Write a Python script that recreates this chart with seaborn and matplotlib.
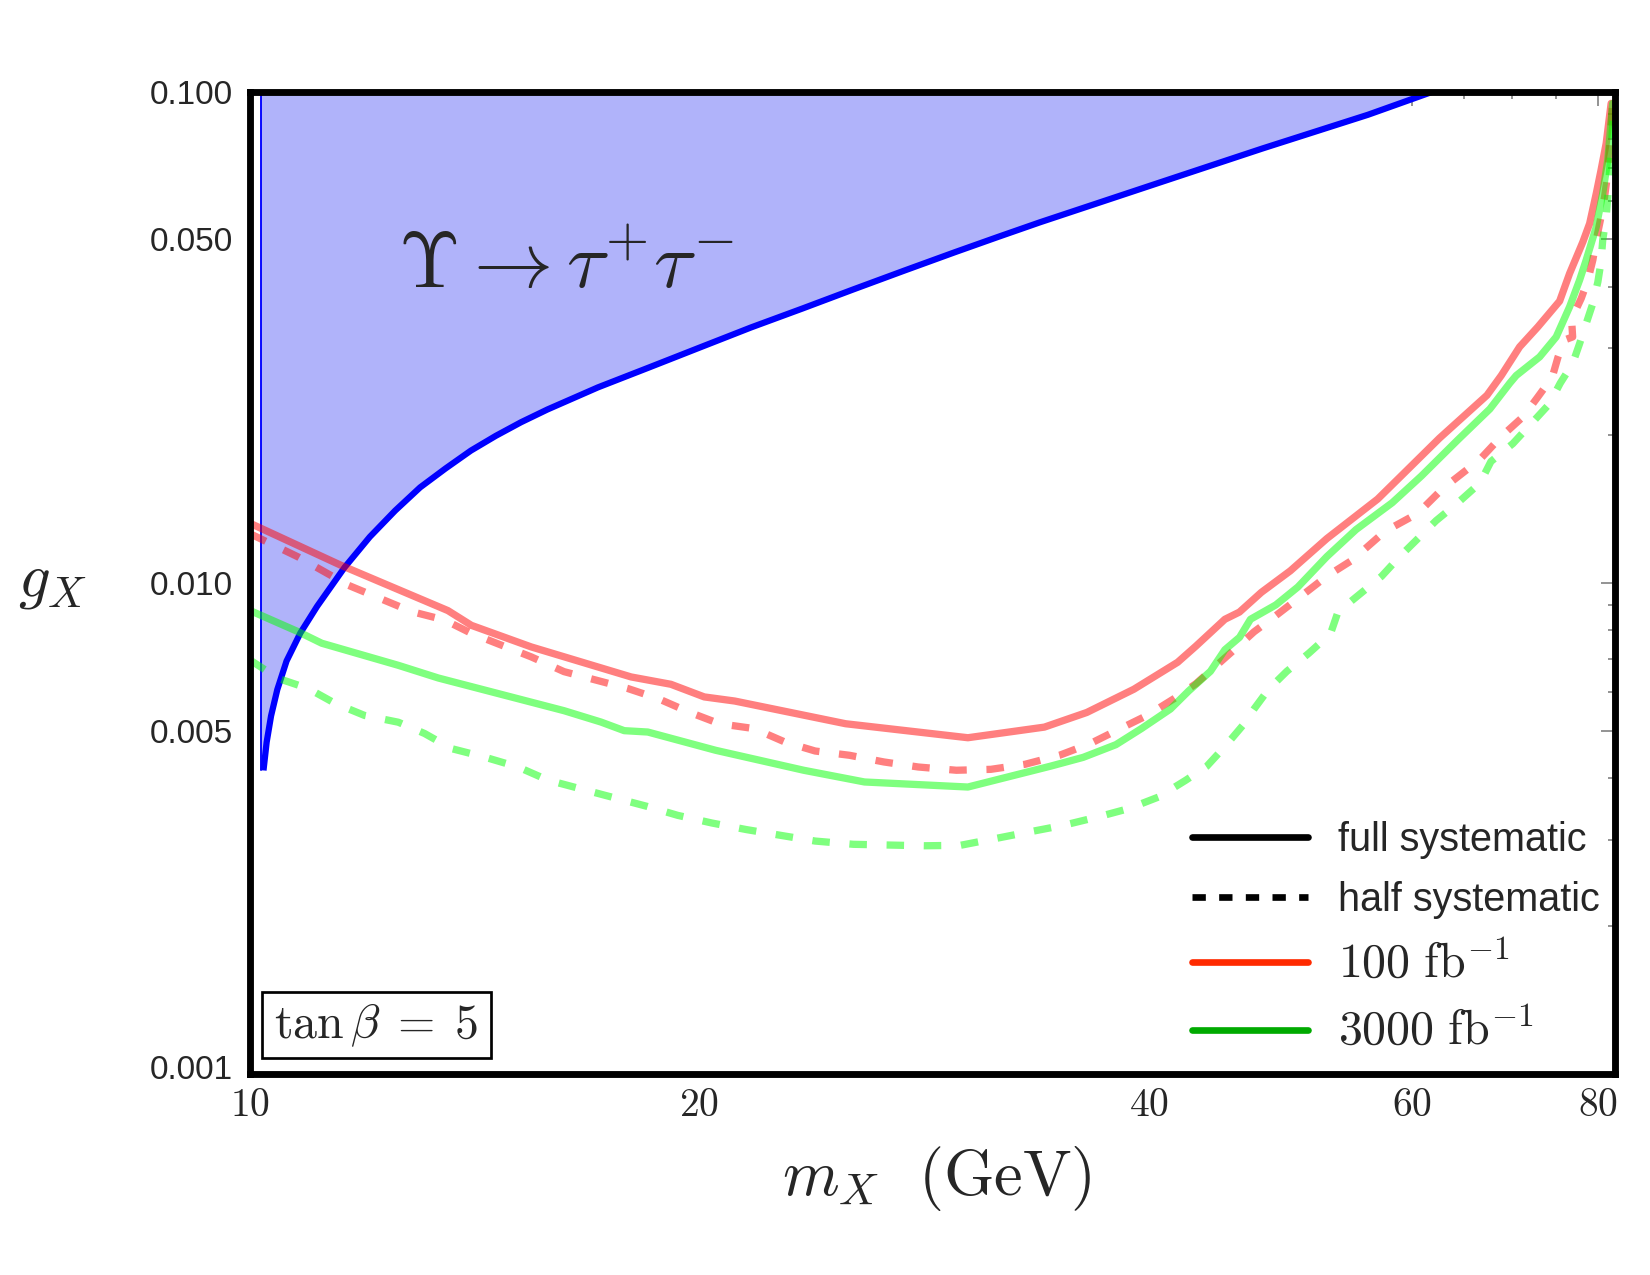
import numpy as np
import matplotlib
matplotlib.use("Agg")
import matplotlib.pyplot as plt
import matplotlib.transforms as mtransforms
from matplotlib.patches import Rectangle
import seaborn as sns
from matplotlib.lines import Line2D
from matplotlib.ticker import FixedLocator, FixedFormatter, NullFormatter

sns.set_theme(style="white")
plt.rcParams["font.family"] = ["Liberation Sans", "DejaVu Sans"]
plt.rcParams["mathtext.fontset"] = "cm"

# ---------------- data ----------------
# Upsilon -> tau tau excluded region boundary
blue_m = [10.21, 10.26, 10.33, 10.43, 10.58, 10.81, 11.09, 11.57, 12.03, 12.51, 13.00,
          13.52, 14.06, 14.61, 15.19, 15.82, 17.10, 18.51, 20.02, 21.66, 23.45, 25.35,
          27.44, 29.66, 31.70, 33.83, 40.55, 47.68, 56.09, 62.0]
blue_g = [0.00415, 0.004737, 0.005358, 0.006062, 0.006931, 0.007913, 0.008954, 0.010747,
          0.012404, 0.014028, 0.015638, 0.017090, 0.018585, 0.019915, 0.021227, 0.022532,
          0.024989, 0.027449, 0.030144, 0.033106, 0.036182, 0.039546, 0.043221, 0.047100,
          0.050601, 0.054210, 0.065089, 0.076618, 0.089712, 0.1]
wall_m = 10.17

# 100 fb^-1, full systematic
rs_m = [10.0, 11.51, 13.57, 14.07, 15.43, 18.00, 19.14, 20.15, 21.12, 25.06, 30.26, 34.05,
        36.35, 39.09, 41.82, 43.01, 44.98, 46.00, 47.58, 49.76, 52.64, 56.93, 58.88, 62.63,
        67.39, 68.90, 70.87, 72.88, 75.38, 76.55, 78.13, 78.95, 79.76, 80.35, 80.99, 81.61]
rs_g = [0.01322, 0.01085, 0.008778, 0.008192, 0.007404, 0.006432, 0.006214, 0.005857,
        0.005745, 0.005165, 0.004837, 0.005084, 0.005445, 0.006072, 0.006890, 0.007430,
        0.008428, 0.008717, 0.009561, 0.010579, 0.012303, 0.014805, 0.016373, 0.019701,
        0.024088, 0.026438, 0.030222, 0.033174, 0.037453, 0.042645, 0.049433, 0.053891,
        0.062035, 0.069208, 0.078465, 0.09463]

# 100 fb^-1, half systematic
rd_m = [10.0, 10.77, 11.64, 12.83, 13.50, 14.07, 15.43, 16.23, 17.91, 18.77, 19.68, 20.63,
        21.76, 22.81, 23.91, 25.21, 26.58, 28.03, 29.73, 31.35, 33.05, 34.85, 36.54, 38.07,
        39.90, 41.59, 43.01, 45.49, 47.05, 48.66, 50.61, 52.63, 54.74, 57.57, 60.55, 62.97,
        66.63, 68.91, 71.26, 72.88, 74.52, 75.18, 75.92, 76.91, 76.78, 77.93, 78.74, 79.34,
        79.76, 80.35, 80.79, 81.19, 81.40, 81.80]
rd_g = [0.012589, 0.011289, 0.009882, 0.008738, 0.008399, 0.007890, 0.007066, 0.006594,
        0.006092, 0.005810, 0.005456, 0.005165, 0.005049, 0.004743, 0.004545, 0.004455,
        0.004318, 0.004217, 0.004153, 0.004171, 0.004271, 0.004455, 0.004705, 0.005007,
        0.005371, 0.005810, 0.006229, 0.007245, 0.007948, 0.008575, 0.009402, 0.010311,
        0.011121, 0.012724, 0.013838, 0.015572, 0.017806, 0.019867, 0.021790, 0.023887,
        0.026205, 0.028763, 0.031199, 0.031664, 0.034437, 0.037918, 0.041341, 0.045402,
        0.049848, 0.055581, 0.061039, 0.068157, 0.076061, 0.094718]

# 3000 fb^-1, full systematic
gs_m = [10.0, 10.77, 11.17, 12.57, 13.37, 16.23, 17.18, 17.81, 18.47, 20.51, 23.49, 25.80,
        30.26, 34.37, 36.15, 38.02, 39.54, 41.36, 42.53, 43.99, 44.98, 46.01, 46.79, 48.66,
        50.34, 52.64, 55.06, 58.23, 60.91, 64.41, 67.69, 69.80, 70.50, 73.09, 74.98, 76.55,
        77.74, 78.53, 79.76, 80.56, 81.19, 81.81]
gs_g = [0.008781, 0.007952, 0.007533, 0.006792, 0.006400, 0.005491, 0.005207, 0.005000,
        0.004968, 0.004560, 0.004153, 0.003931, 0.003839, 0.004233, 0.004412, 0.004682,
        0.005047, 0.005535, 0.006020, 0.006604, 0.007306, 0.007745, 0.008428, 0.009016,
        0.009805, 0.011306, 0.012831, 0.014557, 0.016502, 0.019527, 0.022589, 0.025492,
        0.026425, 0.028834, 0.031664, 0.036469, 0.041341, 0.045402, 0.053046, 0.062035,
        0.072567, 0.09463]

# 3000 fb^-1, half systematic
gd_m = [10.0, 10.45, 10.94, 11.40, 11.93, 12.57, 13.09, 13.64, 14.35, 15.12, 15.83, 17.29,
        18.45, 19.34, 20.39, 21.50, 22.67, 23.91, 25.36, 28.28, 29.91, 31.53, 33.25, 35.06,
        36.98, 38.76, 40.62, 42.34, 43.74, 44.98, 46.26, 47.05, 48.12, 49.49, 51.19, 52.94,
        53.55, 55.38, 57.28, 58.90, 60.58, 62.30, 64.44, 66.67, 67.80, 70.13, 72.12, 74.18,
        75.45, 76.91, 77.74, 78.53, 79.34, 79.96, 80.35, 80.56, 80.99, 81.19, 81.40, 81.61,
        81.80, 81.88]
gd_g = [0.006963, 0.006384, 0.006092, 0.005684, 0.005371, 0.005202, 0.004934, 0.004598,
        0.004420, 0.004217, 0.003966, 0.003693, 0.003506, 0.003362, 0.003243, 0.003145,
        0.003061, 0.002980, 0.002935, 0.002915, 0.002921, 0.003013, 0.003110, 0.003208,
        0.003337, 0.003468, 0.003665, 0.003962, 0.004231, 0.004641, 0.005132, 0.005535,
        0.006072, 0.006604, 0.007185, 0.007878, 0.008720, 0.009481, 0.010311, 0.011306,
        0.012303, 0.013381, 0.014557, 0.015969, 0.017657, 0.019202, 0.021056, 0.023110,
        0.025492, 0.027951, 0.030695, 0.033718, 0.037049, 0.040996, 0.045023, 0.049848,
        0.055581, 0.061039, 0.068157, 0.076061, 0.084818, 0.094718]

x_major = [10, 20, 40, 60, 80]
x_major_labels = ["$10$", "$20$", "$40$", "$60$", "$80$"]
x_minor = [15, 25, 30, 35, 45, 50, 55, 65, 70, 75]
y_major = [0.001, 0.005, 0.01, 0.05, 0.1]
y_major_labels = ["0.001", "0.005", "0.010", "0.050", "0.100"]
y_minor = [0.002, 0.003, 0.004, 0.006, 0.007, 0.008, 0.009,
           0.02, 0.03, 0.04, 0.06, 0.07, 0.08, 0.09]

legend_labels = ["full systematic", "half systematic",
                 r"$100\ \mathrm{fb}^{-1}$", r"$3000\ \mathrm{fb}^{-1}$"]

# ---------------- figure ----------------
fig = plt.figure(figsize=(11, 8.5), dpi=150)
ax = fig.add_axes([0.15152, 0.15765, 0.82727, 0.77051])
ax.set_xscale("log")
ax.set_yscale("log")
ax.set_xlim(10, 82.1)
ax.set_ylim(0.001, 0.1)

# excluded region fill
poly_m = [wall_m] + blue_m + [blue_m[-1], wall_m]
poly_g = [blue_g[0]] + blue_g + [0.1, 0.1]
ax.fill(poly_m, poly_g, color="#b0b3fa", lw=0, zorder=1)
sns.lineplot(x=[wall_m, wall_m], y=[blue_g[0], 0.1], ax=ax, color="#0000ff",
             lw=0.9, sort=False, estimator=None, zorder=1.5)
sns.lineplot(x=blue_m, y=blue_g, ax=ax, color="#0000ff", lw=3.0,
             sort=False, estimator=None, zorder=1.6, solid_capstyle="butt",
             solid_joinstyle="round")

dash = (0, (2.4, 2.7))
common = dict(ax=ax, alpha=0.5, lw=3.5, sort=False, estimator=None)
sns.lineplot(x=rs_m, y=rs_g, color="red", **common)
sns.lineplot(x=rd_m, y=rd_g, color="red", linestyle=dash, **common)
sns.lineplot(x=gs_m, y=gs_g, color="#00ff00", **common)
sns.lineplot(x=gd_m, y=gd_g, color="#00ff00", linestyle=dash, **common)

# ticks
ax.xaxis.set_major_locator(FixedLocator(x_major))
ax.xaxis.set_major_formatter(FixedFormatter(x_major_labels))
ax.xaxis.set_minor_locator(FixedLocator(x_minor))
ax.xaxis.set_minor_formatter(NullFormatter())
ax.yaxis.set_major_locator(FixedLocator(y_major))
ax.yaxis.set_major_formatter(FixedFormatter(y_major_labels))
ax.yaxis.set_minor_locator(FixedLocator(y_minor))
ax.yaxis.set_minor_formatter(NullFormatter())
ax.tick_params(which="both", direction="in", top=True, right=True,
               color="#808080", width=0.8)
ax.tick_params(which="major", length=6.5)
ax.tick_params(which="minor", length=3.5)
ax.tick_params(axis="y", labelsize=16, pad=8)
ax.tick_params(axis="x", labelsize=19, pad=6)

for sp in ax.spines.values():
    sp.set_linewidth(3.3)
    sp.set_color("black")
    sp.set_visible(True)

# labels
ax.set_xlabel(r"$m_X\ \ (\mathrm{GeV})$", fontsize=31)
ax.xaxis.label.set_va("center")
ax.xaxis.set_label_coords(0.5033, -0.1059)
ax.set_ylabel(r"$g_X$", fontsize=30, rotation=0)
ax.yaxis.label.set_va("center")
ax.yaxis.label.set_ha("center")
ax.yaxis.set_label_coords(-0.1443, 0.5018)

ax.text(0.1084, 0.8001, r"$\Upsilon\rightarrow\tau^{+}\tau^{-}$", transform=ax.transAxes,
        fontsize=38, ha="left", va="baseline")

# tan beta box
ax.add_patch(Rectangle((0.0088, 0.0163), 0.1678, 0.0672, transform=ax.transAxes,
                       facecolor="white", edgecolor="black", lw=1.3, zorder=4))
ax.text(0.0927, 0.0499, r"$\tan\beta\;=\;5$", transform=ax.transAxes, fontsize=23,
        ha="center", va="center", zorder=5)

handles = [Line2D([], [], color="black", lw=3.2),
           Line2D([], [], color="black", lw=3.2, linestyle=(0, (2, 2))),
           Line2D([], [], color="#ff2a00", lw=3.2),
           Line2D([], [], color="#00aa00", lw=3.2)]
leg = ax.legend(handles, legend_labels, loc="upper left", bbox_to_anchor=(0.6901, 0.2577),
                frameon=False, fontsize=19, handlelength=2.93, handletextpad=0.76,
                labelspacing=0.55, borderaxespad=0, borderpad=0)
for t in leg.get_texts()[2:]:
    t.set_fontsize(23)

# the lowest y label sits slightly higher in the original
fig.canvas.draw()
lab = ax.yaxis.get_majorticklabels()[0]
lab.set_transform(lab.get_transform() +
                  mtransforms.ScaledTranslation(0, 3.5 / 72, fig.dpi_scale_trans))

fig.savefig("out.png", dpi=150)
